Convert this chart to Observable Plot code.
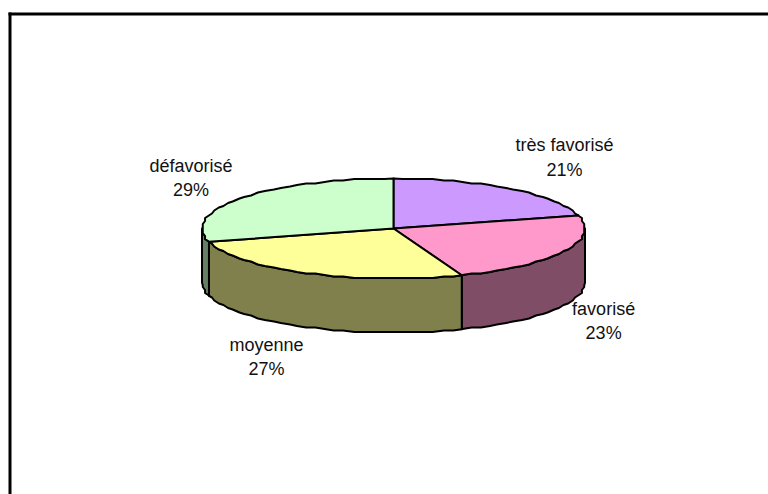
<!DOCTYPE html>
<html><head><meta charset="utf-8">
<script src="https://cdn.jsdelivr.net/npm/d3@7"></script>
<script src="https://cdn.jsdelivr.net/npm/@observablehq/plot@0.6"></script>
<style>html,body{margin:0;padding:0;background:#fff;overflow:hidden}</style>
</head><body><div id="chart"></div>
<script>
const categories = ["très favorisé", "favorisé", "moyenne", "défavorisé"];
const shares = [20.8, 23.4, 26.5, 29.3];
const topColors = ["#CC99FF", "#FF99CC", "#FFFF99", "#CCFFCC"];
const sideColors = ["#664D80", "#804D66", "#80804D", "#668066"];
const labelOffsets = [[54.5, -33], [39.5, 68], [-40.5, 82], [-50, -22]];

const depth = 1.08, step = 3, rad = Math.PI / 180;
const snap = (v, g) => Math.round(v / g) * g;
const pt = (a, drop = 0) => ({x: Math.sin(a * rad), y: Math.cos(a * rad) - drop});
const rough = (a, drop = 0) => ({x: snap(Math.sin(a * rad), 0.012), y: snap(Math.cos(a * rad), 0.03) - drop});
function arcPoints(a0, a1, drop = 0) {
  const out = [pt(a0, drop)];
  for (let a = Math.ceil(a0 / step) * step; a < a1; a += step) if (a > a0) out.push(rough(a, drop));
  out.push(pt(a1, drop));
  return out;
}
let start = 0;
const slices = shares.map((s, i) => {
  const a0 = start, a1 = start + s * 3.6;
  start = a1;
  return {i, a0, a1, mid: (a0 + a1) / 2};
});
const closed = p => [...p, p[0]];
const line = (points, fill) => Plot.line(points, {x: "x", y: "y", fill, stroke: "black", strokeWidth: 2, strokeLinejoin: "round", curve: "linear"});

const marks = [];
for (const s of slices) {
  const lo = Math.max(s.a0, 90), hi = Math.min(s.a1, 270);
  if (lo >= hi) continue;
  marks.push(line(closed([...arcPoints(lo, hi), ...arcPoints(lo, hi, depth).reverse()]), sideColors[s.i]));
}
for (const s of slices) {
  marks.push(line(closed([{x: 0, y: 0}, ...arcPoints(s.a0, s.a1)]), topColors[s.i]));
}
const labels = slices.map(s => ({...pt(s.mid), text: `${categories[s.i]}\n${Math.round(shares[s.i])}%`, dx: labelOffsets[s.i][0], dy: labelOffsets[s.i][1]}));
for (const l of labels) {
  marks.push(Plot.text([l], {x: "x", y: "y", text: "text", dx: l.dx, dy: l.dy, fontSize: 18, lineHeight: 1.36, fill: "#111", fontFamily: "Liberation Sans, Arial, sans-serif"}));
}
marks.push(Plot.frame({anchor: "left", stroke: "black", strokeWidth: 3}));
marks.push(Plot.frame({anchor: "top", stroke: "black", strokeWidth: 3}));

const chart = Plot.plot({
  width: 768, height: 494,
  marginLeft: 9.5, marginTop: 13.5, marginRight: 0, marginBottom: 0,
  style: {background: "white", overflow: "hidden"},
  x: {domain: [-1, 1], range: [201.5, 584.5], axis: null},
  y: {domain: [1, -1], range: [178, 278], axis: null},
  marks
});
document.getElementById("chart").append(chart);
</script></body></html>
